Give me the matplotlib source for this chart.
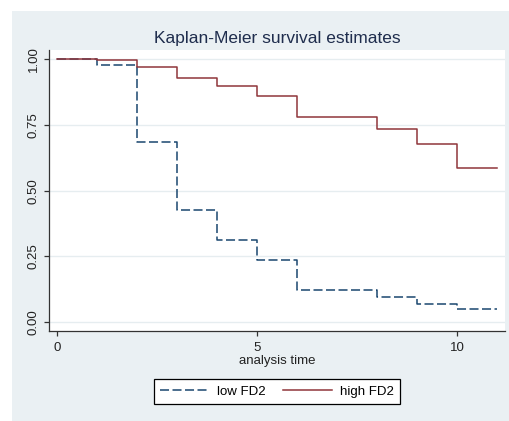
import numpy as np
import matplotlib
matplotlib.use("Agg")
import matplotlib.pyplot as plt
from matplotlib.patches import Rectangle

plt.rcParams['font.family'] = ['Liberation Sans', 'DejaVu Sans']
plt.rcParams['lines.scale_dashes'] = False

# Kaplan-Meier step estimates by group
times = [0, 1, 2, 3, 4, 5, 6, 8, 9, 10, 11]
surv_low = [1.0, 0.978, 0.686, 0.426, 0.314, 0.238, 0.123, 0.097, 0.070, 0.050, 0.050]
surv_high = [1.0, 0.996, 0.971, 0.929, 0.899, 0.860, 0.779, 0.733, 0.678, 0.585, 0.585]
group_labels = ['low FD2', 'high FD2']
yticks = [0.0, 0.25, 0.50, 0.75, 1.00]
xticks = [0, 5, 10]

W, H = 510, 421
fig = plt.figure(figsize=(W / 100, H / 100), dpi=100, facecolor='white')

# bluish-gray graph region, kept behind the axes
fig.patches.append(Rectangle((12 / W, 0), 1 - 12 / W, (H - 11) / H,
                             transform=fig.transFigure, facecolor='#eaf0f3',
                             edgecolor='none', zorder=-10))

ax = fig.add_axes([49 / W, (H - 331) / H, (505 - 49) / W, (331 - 50) / H])
ax.set_facecolor('white')

navy = '#1a476f'
maroon = '#90353b'
l1, = ax.step(times, surv_low, where='post', color=navy, lw=1.1,
              dashes=(6.5, 2.5), label=group_labels[0])
l2, = ax.step(times, surv_high, where='post', color=maroon, lw=1.1,
              label=group_labels[1])

ax.set_xlim(-0.2, 11.2)
ax.set_ylim(-0.033, 1.034)
ax.set_yticks(yticks)
ax.set_yticklabels(['%.2f' % v for v in yticks], rotation=90, va='center')
ax.set_xticks(xticks)
ax.tick_params(axis='both', direction='out', length=3.6, width=0.9,
               color='#333333', labelsize=9.5, labelcolor='#222222')
ax.tick_params(axis='x', pad=4.5)
ax.tick_params(axis='y', pad=3)
ax.yaxis.grid(True, color='#e6edf0', lw=1.0)
ax.set_axisbelow(True)
for s in ['top', 'right']:
    ax.spines[s].set_visible(False)
for s in ['left', 'bottom']:
    ax.spines[s].set_color('#333333')
    ax.spines[s].set_linewidth(0.9)

ax.set_xlabel('analysis time', fontsize=9.5, labelpad=0.5, color='#222222')
fig.text(277 / W, (H - 38) / H, 'Kaplan-Meier survival estimates',
         ha='center', va='center', fontsize=12.5, color='#1f2d4d')

leg = fig.legend(handles=[l1, l2], loc='center', ncol=2,
                 bbox_to_anchor=(277 / W, (H - 391.5) / H), fontsize=9.5,
                 frameon=True, fancybox=False, edgecolor='black',
                 framealpha=1, facecolor='white',
                 handlelength=3.7, handletextpad=0.6, columnspacing=1.3,
                 borderpad=0.5)
leg.get_frame().set_linewidth(0.9)

fig.savefig('out.png', dpi=100, facecolor='white')
